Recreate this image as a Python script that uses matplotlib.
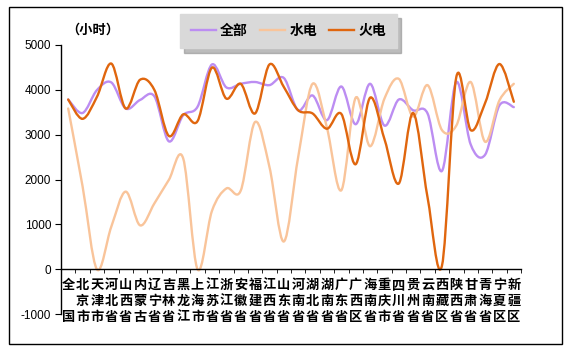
import numpy as np
import matplotlib
matplotlib.use("Agg")
import matplotlib.pyplot as plt
from matplotlib.path import Path
from matplotlib.patches import PathPatch, Rectangle
from matplotlib.lines import Line2D

plt.rcParams['font.family'] = ['Noto Sans CJK SC', 'DejaVu Sans']

# data (hours)
regions = ["全国", "北京市", "天津市", "河北省", "山西省", "内蒙古", "辽宁省", "吉林省",
           "黑龙江", "上海市", "江苏省", "浙江省", "安徽省", "福建省", "江西省", "山东省",
           "河南省", "湖北省", "湖南省", "广东省", "广西区", "海南省", "重庆市", "四川省",
           "贵州省", "云南省", "西藏区", "陕西省", "甘肃省", "青海省", "宁夏区", "新疆区"]
all_hours = [3780, 3480, 3990, 4160, 3580, 3770, 3850, 2850, 3430, 3620, 4560, 4050,
             4130, 4170, 4100, 4260, 3540, 3870, 3320, 4070, 3230, 4130, 3200, 3780,
             3540, 3470, 2190, 4170, 2780, 2550, 3650, 3610]
hydro_hours = [3580, 1850, 0, 950, 1730, 980, 1470, 1990, 2470, 0, 1300, 1800,
               1750, 3280, 2280, 620, 2500, 4130, 3150, 1760, 3820, 2740, 3800, 4240,
               3400, 4100, 3100, 3200, 4170, 2840, 3760, 4130]
thermal_hours = [3780, 3350, 3840, 4580, 3580, 4220, 3990, 2970, 3450, 3300, 4490, 3800,
                 4130, 3470, 4560, 4060, 3540, 3470, 3130, 3460, 2340, 3820, 2900, 1910,
                 3480, 1600, 80, 4280, 3100, 3700, 4570, 3730]
series_names = ["全部", "水电", "火电"]
colors = ["#BC8DF2", "#F9C49A", "#E0660E"]


def smooth_path(xs, ys):
    # bezier through every point, like Excel's smoothed line
    p = np.column_stack([xs, ys]).astype(float)
    n = len(p)
    verts = [p[0]]
    codes = [Path.MOVETO]
    for i in range(n - 1):
        p0 = p[max(i - 1, 0)]
        p1 = p[i]
        p2 = p[i + 1]
        p3 = p[min(i + 2, n - 1)]
        verts += [p1 + (p2 - p0) / 6, p2 - (p3 - p1) / 6, p2]
        codes += [Path.CURVE4] * 3
    return Path(verts, codes)


fig = plt.figure(figsize=(5.7, 3.51), dpi=100)
ax = fig.add_axes([61 / 570, 1 - 314.3 / 351, 460 / 570, 269.6 / 351])

x = np.arange(len(regions))
for vals, c in zip([all_hours, hydro_hours, thermal_hours], colors):
    ax.add_patch(PathPatch(smooth_path(x, vals), fill=False, edgecolor=c,
                           lw=1.7, capstyle='round', joinstyle='round'))

ax.set_xlim(-0.5, len(regions) - 0.5)
ax.set_ylim(-1000, 5000)
ax.set_yticks(range(-1000, 5001, 1000))
ax.set_yticklabels([str(v) for v in range(-1000, 5001, 1000)],
                   family=['Liberation Sans', 'DejaVu Sans'], fontsize=8.5)

ax.spines['top'].set_visible(False)
ax.spines['right'].set_visible(False)
ax.spines['bottom'].set_position(('data', 0))
ax.spines['left'].set_linewidth(1.0)
ax.spines['bottom'].set_linewidth(1.0)

labels = []
for name in regions:
    if len(name) == 2:
        labels.append(name[0] + "\n\u3000\n" + name[1])
    else:
        labels.append("\n".join(name))
ax.set_xticks(x)
ax.set_xticklabels(labels, fontsize=9.5, fontweight='bold', linespacing=1.2)
ax.set_xticks(np.arange(-0.5, len(regions), 1), minor=True)
ax.tick_params(axis='x', which='major', length=0, pad=6)
ax.tick_params(axis='x', which='minor', length=3, direction='out')
ax.tick_params(axis='y', length=4, direction='out', pad=3)

fig.text(66 / 570, 1 - 30 / 351, "（小时）", fontsize=9.5, fontweight='bold',
         va='center', ha='left')

handles = [Line2D([], [], color=c, lw=1.7) for c in colors]
fig.legend(handles, series_names, loc='center',
           bbox_to_anchor=(288.5 / 570, 1 - 31 / 351), ncol=3,
           prop={'weight': 'bold', 'size': 10}, frameon=True, fancybox=False,
           facecolor='#D9D9D9', edgecolor='#D9D9D9', framealpha=1,
           shadow={'ox': 3, 'oy': -3, 'color': '#909090', 'alpha': 0.6},
           handlelength=1.8, handletextpad=0.3, columnspacing=0.9,
           borderpad=0.75)

fig.patches.append(Rectangle((9 / 570, 1 - 344 / 351), 553 / 570, 337 / 351,
                             transform=fig.transFigure, fill=False,
                             edgecolor='black', lw=1.0))

fig.savefig("out.png", dpi=100)
